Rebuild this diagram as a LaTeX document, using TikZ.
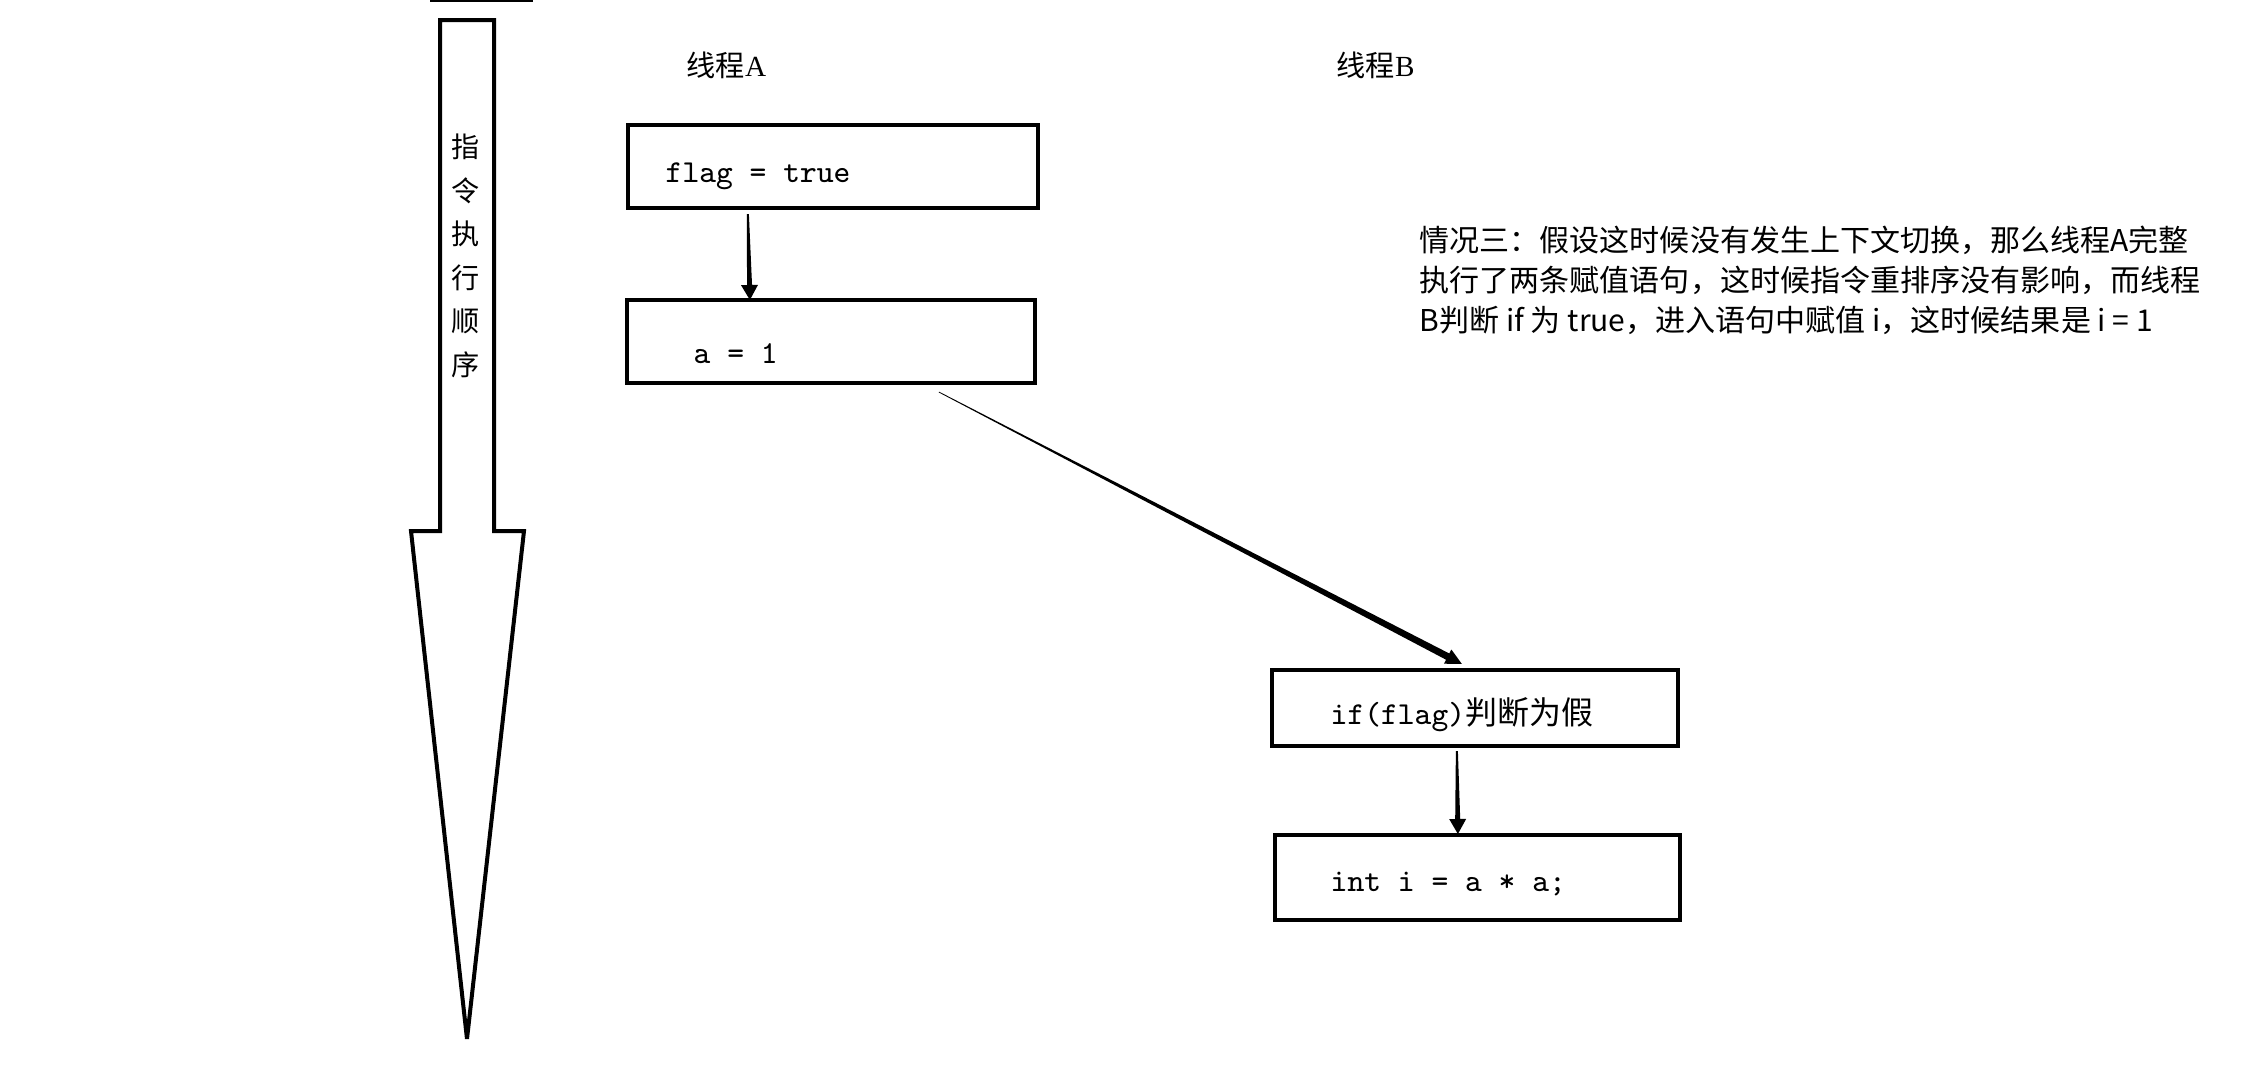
\documentclass[tikz,border=0pt]{standalone}
\usepackage{fontspec}
\newfontfamily\cjk{Noto Sans CJK SC}
\newfontfamily\lserif{Liberation Serif}
\usetikzlibrary{calc}
\tikzset{
  box/.style={draw, line width=0.04cm, rectangle, inner sep=0pt, outer sep=0pt},
  code/.style={anchor=base west, inner sep=0pt, font=\fontsize{9.1pt}{11pt}\ttfamily},
  para/.style={anchor=base west, inner sep=0pt, font=\fontsize{8.54pt}{11pt}\cjk},
  ttl/.style={anchor=base west, inner sep=0pt, font=\fontsize{8.3pt}{10pt}\cjk},
  bigarrow/.style={draw, line width=0.04cm, line join=miter, miter limit=4, fill=white},
}
% tapered arrow: #1 start, #2 tip, #3 half width at start, #4 half width at end, #5 head half width, #6 head length
\newcommand{\tarrow}[6]{%
  \path ($(#2)!#6!(#1)$) coordinate (tb);
  \fill ($(#1)!#3!90:(#2)$) -- ($(tb)!#4!-90:(#1)$) -- ($(tb)!#5!-90:(#1)$) -- (#2)
        -- ($(tb)!#5!90:(#1)$) -- ($(tb)!#4!90:(#1)$) -- ($(#1)!#3!-90:(#2)$) -- cycle;
}
\begin{document}
\begin{tikzpicture}[x=0.01cm, y=-0.01cm]
\useasboundingbox (0,0) rectangle (2241,1066);
\fill[white] (0,0) rectangle (2241,1066);

% big instruction-order arrow
\draw[line width=0.015cm] (430,1) -- (533,1);
\draw[bigarrow] (440,20) -- (494,20) -- (494,531) -- (524,531) -- (467,1039)
  -- (411,531) -- (440,531) -- cycle;
\node[align=center, inner sep=0pt, font=\fontsize{8pt}{12.38pt}\cjk] (vt) at (466,256)
  {指\\令\\执\\行\\顺\\序};

% thread labels
\node[ttl] (ta) at (686,76) {线程{\lserif A}};
\node[ttl] (tbl) at (1336,76) {线程{\lserif B}};

% boxes
\node[box, minimum width=4.10cm, minimum height=0.83cm] (b1) at (833,166.5) {};
\node[box, minimum width=4.08cm, minimum height=0.83cm] (b2) at (831,341.5) {};
\node[box, minimum width=4.06cm, minimum height=0.76cm] (b3) at (1475,708) {};
\node[box, minimum width=4.05cm, minimum height=0.85cm] (b4) at (1477.5,877.5) {};

\node[code] (t1) at (665,182) {flag = true};
\node[code] (t2) at (693,363) {a = 1};
\node[code] (t3) at (1330,724) {if(flag){\cjk 判断为假}};
\node[code] (t4) at (1330,891) {int i = a * a;};

% paragraph
\node[para] (p1) at (1419,251) {情况三：假设这时候没有发生上下文切换，那么线程A完整};
\node[para] (p2) at (1419,291) {执行了两条赋值语句，这时候指令重排序没有影响，而线程};
\node[para] (p3) at (1419,331) {B判断 if 为 true，进入语句中赋值 i，这时候结果是 i = 1};

% connectors
\coordinate (a1s) at ($(b1.south west)+(120,6)$);
\coordinate (a1e) at ($(b2.north west)+(123,0)$);
\coordinate (ds) at ($(b2.south west)+(312,9)$);
\coordinate (de) at ($(b3.north west)+(190,-6)$);
\coordinate (a3s) at ($(b3.south west)+(185,5)$);
\coordinate (a3e) at ($(b4.north west)+(183,-1)$);

\tarrow{a1s}{a1e}{0.01cm}{0.025cm}{0.085cm}{0.15cm}
\tarrow{ds}{de}{0.004cm}{0.035cm}{0.08cm}{0.16cm}
\tarrow{a3s}{a3e}{0.01cm}{0.025cm}{0.085cm}{0.15cm}
\end{tikzpicture}
\end{document}
